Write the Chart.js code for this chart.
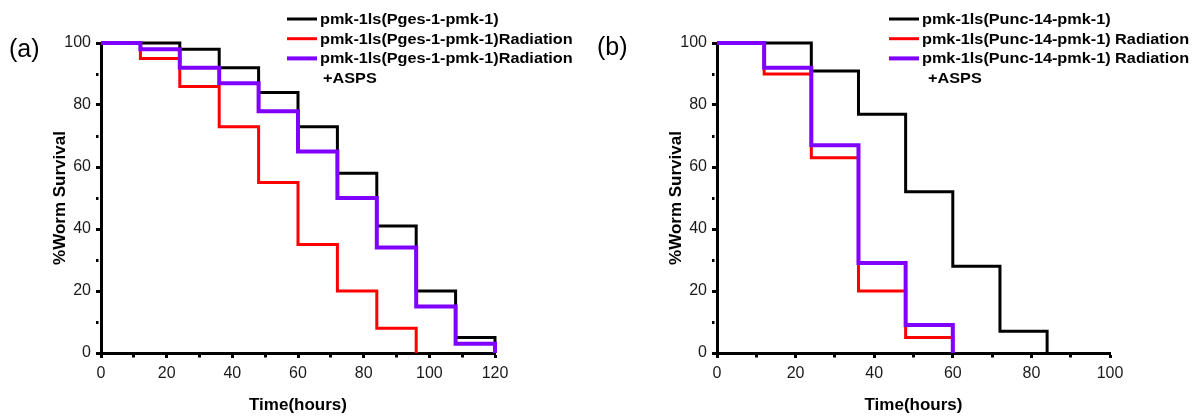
<!DOCTYPE html>
<html>
<head>
<meta charset="utf-8">
<script src="https://cdn.jsdelivr.net/npm/chart.js@4/dist/chart.umd.min.js"></script>
<style>
  body { margin: 0; background: #fff; }
  .row { display: flex; width: 1194px; height: 416px; }
  canvas { display: block; }
</style>
</head>
<body>
<div class="row">
  <canvas id="chartA" width="597" height="416"></canvas>
  <canvas id="chartB" width="597" height="416"></canvas>
</div>
<script>
// survival data, % alive at each scoring time (hours)
// panel (a): pmk-1 driven by the intestinal promoter
const hoursA = [0, 12, 24, 36, 48, 60, 72, 84, 96, 108, 120];
const controlA = [100, 100, 98, 92, 84, 73, 58, 41, 20, 5, 0];
const radiationA = [100, 95, 86, 73, 55, 35, 20, 8, 0, null, null];
const aspsA = [100, 98, 92, 87, 78, 65, 50, 34, 15, 3, 0];

// panel (b): pmk-1 driven by the neuronal promoter
const hoursB = [0, 12, 24, 36, 48, 60, 72, 84];
const controlB = [100, 100, 91, 77, 52, 28, 7, 0];
const radiationB = [100, 90, 63, 20, 5, 0, null, null];
const aspsB = [100, 92, 67, 29, 9, 0, null, null];

const labelsA = ["pmk-1ls(Pges-1-pmk-1)", "pmk-1ls(Pges-1-pmk-1)Radiation", ["pmk-1ls(Pges-1-pmk-1)Radiation", "+ASPS"]];
const labelsB = ["pmk-1ls(Punc-14-pmk-1)", "pmk-1ls(Punc-14-pmk-1) Radiation", ["pmk-1ls(Punc-14-pmk-1) Radiation", "+ASPS"]];

const xTicksA = [0, 20, 40, 60, 80, 100, 120];
const xTicksB = [0, 20, 40, 60, 80, 100];
const yTicks = [0, 20, 40, 60, 80, 100];

const FONT = '"Liberation Sans", Arial, Helvetica, sans-serif';

// turn two arrays into {x, y} points, dropping the times after a curve ends
function points(xs, ys) {
    const out = [];
    xs.forEach((x, i) => {
        if (ys[i] !== null) out.push({ x: x, y: ys[i] });
    });
    return out;
}

function makeDataset(label, data, color, width, order) {
    return {
        label: label,
        data: data,
        borderColor: color,
        backgroundColor: color,
        borderWidth: width,
        stepped: true,        // horizontal first, then drop at the next time point
        pointRadius: 0,
        fill: false,
        clip: false,
        borderJoinStyle: "miter",
        borderCapStyle: "butt",
        order: order          // purple on top, black at the bottom
    };
}

// legend and panel letter drawn in the top right corner of each panel
const cornerLegend = {
    id: "cornerLegend",
    afterDraw(chart, args, opts) {
        const ctx = chart.ctx;
        ctx.save();
        ctx.fillStyle = "#000";
        ctx.textBaseline = "middle";
        ctx.textAlign = "left";

        ctx.font = "25px " + FONT;
        ctx.fillText(opts.tag, opts.tagX, opts.tagY);

        ctx.font = "bold 14px " + FONT;
        chart.data.datasets.forEach((ds, i) => {
            const y = opts.top + i * opts.gap;
            ctx.strokeStyle = ds.borderColor;
            ctx.lineWidth = ds.borderWidth;
            ctx.beginPath();
            ctx.moveTo(opts.lineX, y);
            ctx.lineTo(opts.lineX + 30, y);
            ctx.stroke();

            [].concat(ds.label).forEach((txt, k) => {
                ctx.save();
                ctx.translate(opts.textX + (k ? opts.indent : 0), y + k * opts.gap);
                ctx.scale(1.16, 1);
                ctx.fillText(txt, 0, 1);
                ctx.restore();
            });
        });
        ctx.restore();
    }
};

function axisOptions(max, shownTicks, title, isX) {
    return {
        type: "linear",
        min: 0,
        max: max,
        afterFit(scale) {
            if (isX) scale.height = 63;
            else scale.width = 60;
        },
        border: { display: true, color: "#000", width: 3 },
        grid: {
            display: true,
            drawOnChartArea: false,
            drawTicks: true,
            tickLength: 5,
            tickColor: "#000",
            tickWidth: 3,
            // odd tens get a short tick
            tickBorderDash: ctx => (ctx.tick && shownTicks.includes(ctx.tick.value)) ? [] : [2.5, 50]
        },
        ticks: {
            stepSize: 10,
            autoSkip: false,
            maxRotation: 0,
            color: "#1a1a1a",
            padding: isX ? 6 : 5,
            font: { family: FONT, size: 16 },
            callback: value => shownTicks.includes(value) ? value : ""
        },
        title: {
            display: true,
            text: title,
            color: "#000",
            font: { family: FONT, size: 17, weight: "bold" },
            padding: isX ? { top: 0, bottom: 0 } : { top: 9, bottom: 0 }
        }
    };
}

function buildChart(id, hours, series, labels, xMax, xTicks, padding, legendOpts) {
    const colors = ["#000000", "#ff0000", "#8000ff"];
    const widths = [3, 3, 4];
    const config = {
        type: "line",
        data: {
            datasets: series.map((ys, i) => makeDataset(labels[i], points(hours, ys), colors[i], widths[i], 3 - i))
        },
        options: {
            responsive: false,
            animation: false,
            devicePixelRatio: 1,
            layout: { padding: padding },
            plugins: {
                legend: { display: false },
                tooltip: { enabled: false },
                cornerLegend: legendOpts
            },
            scales: {
                x: axisOptions(xMax, xTicks, "Time(hours)", true),
                y: axisOptions(100, yTicks, "%Worm Survival", false)
            }
        },
        plugins: [cornerLegend]
    };
    return new Chart(document.getElementById(id).getContext("2d"), config);
}

buildChart("chartA", hoursA, [controlA, radiationA, aspsA], labelsA, 120, xTicksA,
    { left: 41, right: 102, top: 43, bottom: 0 },
    { tag: "(a)", tagX: 9, tagY: 50, top: 19, gap: 19.7, lineX: 287, textX: 320, indent: 3 });

buildChart("chartB", hoursB, [controlB, radiationB, aspsB], labelsB, 100, xTicksB,
    { left: 60, right: 84, top: 43, bottom: 0 },
    { tag: "(b)", tagX: 0, tagY: 48, top: 19, gap: 19.7, lineX: 292, textX: 325, indent: 6 });
</script>
</body>
</html>
